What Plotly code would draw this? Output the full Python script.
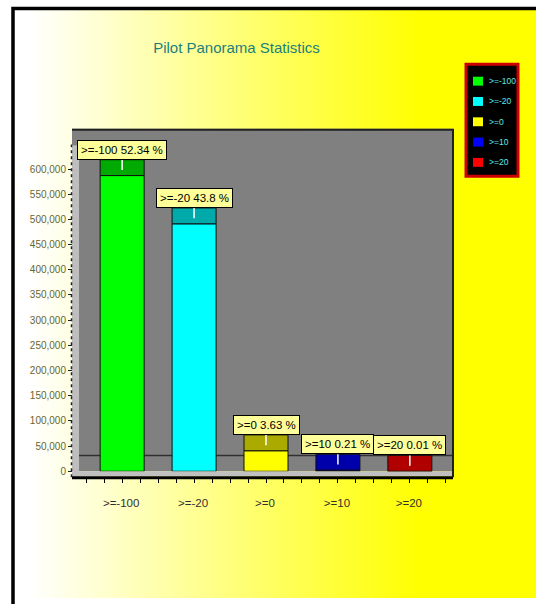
import base64
import struct
import zlib

import plotly.graph_objects as go

# ---- data ---------------------------------------------------------------
categories = [">=-100", ">=-20", ">=0", ">=10", ">=20"]
percentages = [52.34, 43.8, 3.63, 0.21, 0.01]
total_count = 1121500
front_colors = ["#00FF00", "#00FFFF", "#FFFF00", "#0000FF", "#FF0000"]
top_colors = ["#00AA00", "#00AAAA", "#AAAA00", "#0000AA", "#B00000"]
y_ticks = [0, 50000, 100000, 150000, 200000, 250000, 300000,
           350000, 400000, 450000, 500000, 550000, 600000]

counts = [p / 100.0 * total_count for p in percentages]

# ---- page geometry (pixels) --------------------------------------------
W, H = 536, 604
WALL_L, WALL_R = 79, 453          # back wall
WALL_T, FRONT_B = 130, 476        # top of wall, front floor edge (value 0)
FRONT_L = 72                      # front-left corner of the floor
Y_MAX = 680000
DEPTH_PX = 16
depth = DEPTH_PX / (FRONT_B - WALL_T) * Y_MAX
FONT = "Liberation Sans, Arial, sans-serif"


def px(x):
    return x / W


def py(y):
    return 1 - y / H


# ---- horizontal white-to-yellow background as an inline PNG -------------
def gradient_png(width):
    row = bytearray(b"\x00")
    for i in range(width):
        x = 15 + i
        t = min(max((x - 30) / 390.0, 0.0), 1.0)
        row += bytes((255, 255, int(round(255 * (1 - t)))))

    def chunk(tag, data):
        return (struct.pack(">I", len(data)) + tag + data
                + struct.pack(">I", zlib.crc32(tag + data) & 0xFFFFFFFF))

    ihdr = struct.pack(">IIBBBBB", width, 1, 8, 2, 0, 0, 0)
    png = (b"\x89PNG\r\n\x1a\n" + chunk(b"IHDR", ihdr)
           + chunk(b"IDAT", zlib.compress(bytes(row))) + chunk(b"IEND", b""))
    return "data:image/png;base64," + base64.b64encode(png).decode()


fig = go.Figure()

xs = list(range(len(categories)))
bar_w = 44 / ((WALL_R - WALL_L) / 5.2)

# front faces
for i, (cat, v) in enumerate(zip(categories, counts)):
    fig.add_trace(go.Bar(
        x=[i], y=[v], base=0, width=bar_w, name=cat,
        marker=dict(color=front_colors[i], line=dict(color="#101010", width=1)),
        showlegend=False, hoverinfo="skip"))

# top faces (depth of the 3D box)
fig.add_trace(go.Bar(
    x=xs, y=[depth] * len(xs), base=counts, width=bar_w,
    marker=dict(color=top_colors, line=dict(color="#101010", width=1)),
    showlegend=False, hoverinfo="skip"))

# white value markers on the top faces
mx, my = [], []
for i, v in enumerate(counts):
    mx += [i, i, None]
    my += [v + depth, v + depth * 0.35, None]
fig.add_trace(go.Scatter(x=mx, y=my, mode="lines",
                         line=dict(color="white", width=1.5),
                         showlegend=False, hoverinfo="skip"))

# value boxes
annotations = []
for i, (cat, p, v) in enumerate(zip(categories, percentages, counts)):
    annotations.append(dict(
        x=i, y=v + depth, xref="x", yref="y", yanchor="bottom",
        text=f"{cat} {p:g} %", showarrow=False,
        font=dict(family=FONT, size=11.5, color="#000000"),
        bgcolor="#FFFF99", bordercolor="#000000", borderwidth=1, borderpad=3))

# legend panel
leg_x0, leg_x1, leg_y0, leg_y1 = 466, 518, 65, 178
shapes = [
    # back wall
    dict(type="rect", xref="paper", yref="paper", layer="below",
         x0=px(WALL_L), x1=px(WALL_R), y0=py(FRONT_B), y1=py(WALL_T),
         fillcolor="#808080", line=dict(width=0)),
    # left wall
    dict(type="rect", xref="paper", yref="paper", layer="below",
         x0=px(FRONT_L), x1=px(WALL_L), y0=py(FRONT_B + 6), y1=py(147),
         fillcolor="#BEBEBE", line=dict(width=0)),
    dict(type="rect", xref="paper", yref="paper", layer="below",
         x0=px(FRONT_L), x1=px(WALL_L), y0=py(147), y1=py(WALL_T),
         fillcolor="#808080", line=dict(width=0)),
    # floor front band
    dict(type="rect", xref="paper", yref="paper", layer="below",
         x0=px(FRONT_L), x1=px(WALL_R), y0=py(481), y1=py(FRONT_B),
         fillcolor="#C0C0C0", line=dict(width=0)),
    # floor front edge
    dict(type="line", xref="paper", yref="paper", layer="below",
         x0=px(FRONT_L), x1=px(WALL_R), y0=py(482.5), y1=py(482.5),
         line=dict(color="#000000", width=3)),
    # dotted value axis line
    dict(type="line", xref="paper", yref="paper", layer="below",
         x0=px(71.5), x1=px(71.5), y0=py(482), y1=py(146),
         line=dict(color="#202020", width=1.5, dash="dot")),
    # back edge of the floor
    dict(type="line", xref="x", yref="y", layer="below",
         x0=-0.6, x1=4.6, y0=depth, y1=depth,
         line=dict(color="#303030", width=1.5)),
    # wall outline top and right
    dict(type="path", xref="paper", yref="paper", layer="above",
         path=f"M {px(FRONT_L)},{py(WALL_T + 1)} L {px(WALL_R)},{py(WALL_T + 1)} "
              f"L {px(WALL_R)},{py(FRONT_B + 6)}",
         line=dict(color="#202020", width=2)),
    # page frame
    dict(type="rect", xref="paper", yref="paper", layer="above",
         x0=px(13), x1=1.05, y0=-0.05, y1=py(8.5),
         line=dict(color="#000000", width=3.5)),
    # legend box
    dict(type="rect", xref="paper", yref="paper", layer="above",
         x0=px(leg_x0), x1=px(leg_x1), y0=py(leg_y1), y1=py(leg_y0),
         fillcolor="#000000", line=dict(color="#CC0000", width=3)),
]
for i, cat in enumerate(categories):
    cy = 82 + i * 20.5
    shapes.append(dict(type="rect", xref="paper", yref="paper", layer="above",
                       x0=px(473), x1=px(483), y0=py(cy + 4.5), y1=py(cy - 4.5),
                       fillcolor=front_colors[i], line=dict(width=0)))
    annotations.append(dict(
        x=px(487), y=py(cy), xref="paper", yref="paper",
        xanchor="left", yanchor="middle", text=cat, showarrow=False,
        font=dict(family=FONT, size=8.5, color="#5FE8E8")))

fig.update_layout(
    width=W, height=H,
    margin=dict(l=0, r=0, t=0, b=0),
    paper_bgcolor="#FFFFFF",
    plot_bgcolor="rgba(0,0,0,0)",
    barmode="overlay",
    title=dict(text="Pilot Panorama Statistics", x=236.5 / W, xanchor="center",
               y=py(48), yanchor="middle",
               font=dict(family=FONT, size=15, color="#1B7F7F")),
    images=[dict(source=gradient_png(W - 15), xref="paper", yref="paper",
                 x=px(15), y=py(10), sizex=1 - px(15), sizey=py(10),
                 sizing="stretch", xanchor="left", yanchor="top",
                 layer="below")],
    shapes=shapes,
    annotations=annotations,
    showlegend=False,
    xaxis=dict(domain=[px(WALL_L), px(WALL_R)], range=[-0.6, 4.6],
               anchor="free", position=py(482),
               tickvals=xs, ticktext=categories, ticks="outside",
               ticklen=5, tickcolor="#000000", ticklabelshift=-1,
               ticklabelstandoff=10,
               minor=dict(dtick=0.25, tick0=0, ticks="outside", ticklen=5,
                          tickcolor="#000000"),
               showgrid=False, zeroline=False, showline=False,
               tickfont=dict(family=FONT, size=11.5, color="#303030")),
    yaxis=dict(domain=[py(FRONT_B), py(WALL_T)], range=[0, Y_MAX],
               anchor="free", position=px(72),
               tickvals=y_ticks, tickformat=",d", ticks="outside",
               ticklen=4, tickcolor="#202020",
               showgrid=False, zeroline=False, showline=False,
               tickfont=dict(family=FONT, size=10, color="#666633")),
)

fig.write_html("out.html")
